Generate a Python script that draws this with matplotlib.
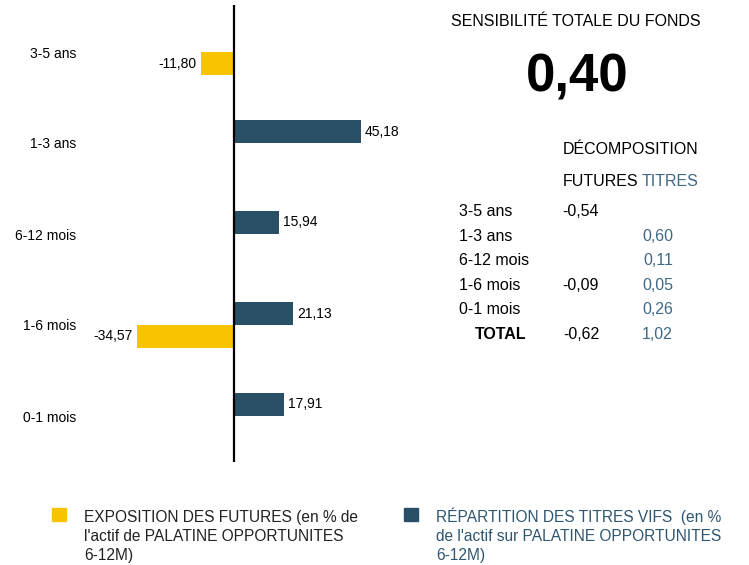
import matplotlib
matplotlib.use("Agg")
import matplotlib.pyplot as plt
from matplotlib.patches import Rectangle
import numpy as np

plt.rcParams['font.family'] = ['Liberation Sans', 'DejaVu Sans']

# ---- data ----
categories = ["3-5 ans", "1-3 ans", "6-12 mois", "1-6 mois", "0-1 mois"]
futures = [-11.80, None, None, -34.57, None]
titres = [None, 45.18, 15.94, 21.13, 17.91]

sens_total = "0,40"
table_rows = ["3-5 ans", "1-3 ans", "6-12 mois", "1-6 mois", "0-1 mois"]
table_futures = ["-0,54", "", "", "-0,09", ""]
table_titres = ["", "0,60", "0,11", "0,05", "0,26"]
total_futures = "-0,62"
total_titres = "1,02"

legend_futures = ["EXPOSITION DES FUTURES (en % de",
                  "l'actif de PALATINE OPPORTUNITES",
                  "6-12M)"]
legend_titres = ["RÉPARTITION DES TITRES VIFS  (en %",
                 "de l'actif sur PALATINE OPPORTUNITES",
                 "6-12M)"]

# ---- style ----
C_FUT = "#F8C300"
C_TIT = "#284F66"
C_TIT_TXT = "#3F6885"
C_LEG_TXT = "#2F5670"

W, H = 749, 565
fig = plt.figure(figsize=(W / 100, H / 100), dpi=100)

def fx(px):
    return px / W

def fy(py):
    return 1 - py / H

# axes in pixel box
ax_l, ax_r, ax_t, ax_b = 100, 420, 5, 462
ax = fig.add_axes([fx(ax_l), fy(ax_b), (ax_r - ax_l) / W, (ax_b - ax_t) / H])

scale = 2.8  # px per unit
zero_px = 234
ax.set_xlim(-(zero_px - ax_l) / scale, (ax_r - zero_px) / scale)
step = 91.0
ax.set_ylim((ax_b - 52) / step, -(52 - ax_t) / step)

pos = np.arange(len(categories))
h = 23 / step

fut_vals = np.array([np.nan if v is None else v for v in futures])
tit_vals = np.array([np.nan if v is None else v for v in titres])

bf = ax.barh(pos + h / 2, np.nan_to_num(fut_vals), height=h, color=C_FUT)
bt = ax.barh(pos - h / 2, np.nan_to_num(tit_vals), height=h, color=C_TIT)

def fmt(v):
    return "" if v is None else f"{v:.2f}".replace(".", ",")

ax.bar_label(bf, labels=[fmt(v) for v in futures], padding=3, fontsize=10)
ax.bar_label(bt, labels=[fmt(v) for v in titres], padding=3, fontsize=10)

ax.axvline(0, color="black", lw=1.6)
for s in ax.spines.values():
    s.set_visible(False)
ax.set_xticks([])
ax.set_yticks(pos, categories, fontsize=10)
ax.tick_params(axis="y", length=0, pad=17)

# ---- right panel ----
fs = 11.5
fig.text(fx(451), fy(26), "SENSIBILITÉ TOTALE DU FONDS", fontsize=fs,
         ha="left", va="baseline")
fig.text(fx(577), fy(92), sens_total, fontsize=38, fontweight="bold",
         ha="center", va="baseline")
fig.text(fx(563), fy(154), "DÉCOMPOSITION", fontsize=fs, ha="left", va="baseline")
fig.text(fx(563), fy(186), "FUTURES", fontsize=fs, ha="left", va="baseline")
fig.text(fx(642), fy(186), "TITRES", fontsize=fs, ha="left", va="baseline",
         color=C_TIT_TXT)

row_base = [216, 241, 265, 290, 314]
for lab, f, t, yb in zip(table_rows, table_futures, table_titres, row_base):
    fig.text(fx(459), fy(yb), lab, fontsize=fs, ha="left", va="baseline")
    if f:
        fig.text(fx(599), fy(yb), f, fontsize=fs, ha="right", va="baseline")
    if t:
        fig.text(fx(673), fy(yb), t, fontsize=fs, ha="right", va="baseline",
                 color=C_TIT_TXT)
fig.text(fx(475), fy(339), "TOTAL", fontsize=fs, fontweight="bold",
         ha="left", va="baseline")
fig.text(fx(599), fy(339), total_futures, fontsize=fs, ha="right", va="baseline")
fig.text(fx(673), fy(339), total_titres, fontsize=fs, ha="right", va="baseline",
         color=C_TIT_TXT)

# ---- legend ----
leg_fs = 11.2
for x_sq, x_txt, color, lines, tcol in [
        (52, 84, C_FUT, legend_futures, "#222222"),
        (404, 436, C_TIT, legend_titres, C_LEG_TXT)]:
    fig.patches.append(Rectangle((fx(x_sq), fy(521)), 14 / W, 13 / H,
                                 transform=fig.transFigure, color=color))
    for i, ln in enumerate(lines):
        fig.text(fx(x_txt), fy(522 + 19 * i), ln, fontsize=leg_fs,
                 ha="left", va="baseline", color=tcol)

fig.savefig("out.png", dpi=100)
